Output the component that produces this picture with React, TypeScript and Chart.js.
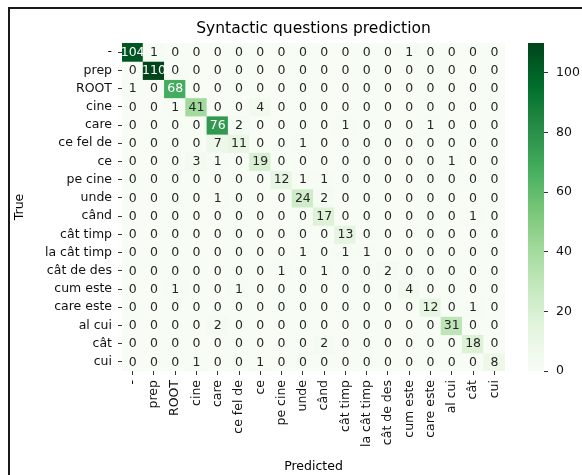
import React, { useEffect, useRef } from 'react';
import { Chart, registerables } from 'chart.js';

Chart.register(...registerables);

const categories = ['-', 'prep', 'ROOT', 'cine', 'care', 'ce fel de', 'ce', 'pe cine', 'unde', 'când', 'cât timp', 'la cât timp', 'cât de des', 'cum este', 'care este', 'al cui', 'cât', 'cui'];

const rowDash = [104, 1, 0, 0, 0, 0, 0, 0, 0, 0, 0, 0, 0, 1, 0, 0, 0, 0];
const rowPrep = [0, 110, 0, 0, 0, 0, 0, 0, 0, 0, 0, 0, 0, 0, 0, 0, 0, 0];
const rowRoot = [1, 0, 68, 0, 0, 0, 0, 0, 0, 0, 0, 0, 0, 0, 0, 0, 0, 0];
const rowCine = [0, 0, 1, 41, 0, 0, 4, 0, 0, 0, 0, 0, 0, 0, 0, 0, 0, 0];
const rowCare = [0, 0, 0, 0, 76, 2, 0, 0, 0, 0, 1, 0, 0, 0, 1, 0, 0, 0];
const rowCeFelDe = [0, 0, 0, 0, 7, 11, 0, 0, 1, 0, 0, 0, 0, 0, 0, 0, 0, 0];
const rowCe = [0, 0, 0, 3, 1, 0, 19, 0, 0, 0, 0, 0, 0, 0, 0, 1, 0, 0];
const rowPeCine = [0, 0, 0, 0, 0, 0, 0, 12, 1, 1, 0, 0, 0, 0, 0, 0, 0, 0];
const rowUnde = [0, 0, 0, 0, 1, 0, 0, 0, 24, 2, 0, 0, 0, 0, 0, 0, 0, 0];
const rowCand = [0, 0, 0, 0, 0, 0, 0, 0, 0, 17, 0, 0, 0, 0, 0, 0, 1, 0];
const rowCatTimp = [0, 0, 0, 0, 0, 0, 0, 0, 0, 0, 13, 0, 0, 0, 0, 0, 0, 0];
const rowLaCatTimp = [0, 0, 0, 0, 0, 0, 0, 0, 1, 0, 1, 1, 0, 0, 0, 0, 0, 0];
const rowCatDeDes = [0, 0, 0, 0, 0, 0, 0, 1, 0, 1, 0, 0, 2, 0, 0, 0, 0, 0];
const rowCumEste = [0, 0, 1, 0, 0, 1, 0, 0, 0, 0, 0, 0, 0, 4, 0, 0, 0, 0];
const rowCareEste = [0, 0, 0, 0, 0, 0, 0, 0, 0, 0, 0, 0, 0, 0, 12, 0, 1, 0];
const rowAlCui = [0, 0, 0, 0, 2, 0, 0, 0, 0, 0, 0, 0, 0, 0, 0, 31, 0, 0];
const rowCat = [0, 0, 0, 0, 0, 0, 0, 0, 0, 2, 0, 0, 0, 0, 0, 0, 18, 0];
const rowCui = [0, 0, 0, 1, 0, 0, 1, 0, 0, 0, 0, 0, 0, 0, 0, 0, 0, 8];

const matrix = [rowDash, rowPrep, rowRoot, rowCine, rowCare, rowCeFelDe, rowCe, rowPeCine, rowUnde, rowCand, rowCatTimp, rowLaCatTimp, rowCatDeDes, rowCumEste, rowCareEste, rowAlCui, rowCat, rowCui];

const colorbarTicks = [0, 20, 40, 60, 80, 100];
const vmax = 110;

const GREENS: [number, number, number][] = [
  [247, 252, 245], [229, 245, 224], [199, 233, 192], [161, 217, 155], [116, 196, 118],
  [65, 171, 93], [35, 139, 69], [0, 109, 44], [0, 68, 27],
];

function greens(t: number): string {
  const tt = Math.max(0, Math.min(1, t)) * (GREENS.length - 1);
  const i = Math.min(GREENS.length - 2, Math.floor(tt));
  const f = tt - i;
  const a = GREENS[i], b = GREENS[i + 1];
  const c = a.map((v, k) => Math.round(v + (b[k] - v) * f));
  return `rgb(${c[0]},${c[1]},${c[2]})`;
}

const FONT = 'DejaVu Sans';
const tickFont = { family: FONT, size: 12.5 };
const TEXT = '#111';
const TICKC = '#333';

const annotPlugin = {
  id: 'annot',
  afterDatasetsDraw(chart: any) {
    const { ctx } = chart;
    ctx.save();
    ctx.font = `12.5px "${FONT}"`;
    ctx.textAlign = 'center';
    ctx.textBaseline = 'middle';
    chart.data.datasets.forEach((_ds: any, r: number) => {
      const meta = chart.getDatasetMeta(r);
      meta.data.forEach((el: any, c: number) => {
        const v = matrix[r][c];
        const { x, y, base } = el.getProps(['x', 'y', 'base'], true);
        ctx.fillStyle = v > 55 ? '#ffffff' : '#262626';
        ctx.fillText(String(v), x, (y + base) / 2 + 0.5);
      });
    });
    ctx.restore();
  },
};

export default function App() {
  const mainRef = useRef<HTMLCanvasElement>(null);
  const cbRef = useRef<HTMLCanvasElement>(null);

  useEffect(() => {
    const main = new Chart(mainRef.current as HTMLCanvasElement, {
      type: 'bar',
      data: {
        labels: categories,
        datasets: matrix.map((row, r) => ({
          label: categories[r],
          data: row.map(() => 1),
          backgroundColor: row.map((v) => greens(v / vmax)),
          borderWidth: 0,
          inflateAmount: 0.5,
          barPercentage: 1,
          categoryPercentage: 1,
          stack: 'm',
        })),
      },
      options: {
        animation: false,
        responsive: false,
        maintainAspectRatio: false,
        devicePixelRatio: 1,
        events: [],
        layout: { padding: { top: 10, left: 8, right: 77, bottom: 0 } },
        plugins: {
          legend: { display: false },
          tooltip: { enabled: false },
          title: {
            display: true,
            text: 'Syntactic questions prediction',
            fullSize: false,
            font: { family: FONT, size: 15.5, weight: 'normal' },
            color: '#000',
            padding: { top: 10, bottom: 4.4 },
          },
        },
        scales: {
          x: {
            type: 'category',
            stacked: true,
            offset: true,
            grid: { display: true, drawOnChartArea: false, drawTicks: true, tickLength: 4, color: TICKC, offset: false },
            border: { display: false },
            ticks: { font: tickFont, color: TEXT, maxRotation: 90, minRotation: 90, autoSkip: false, padding: 5 },
            title: { display: true, text: 'Predicted', font: tickFont, color: '#000', padding: { top: 0, bottom: 1 } },
            afterFit: (s: any) => { s.height = 104; },
          },
          y: {
            type: 'linear',
            stacked: true,
            min: 0,
            max: 18,
            reverse: true,
            afterBuildTicks: (s: any) => { s.ticks = categories.map((_c, i) => ({ value: i + 0.5 })); },
            ticks: { font: tickFont, color: TEXT, autoSkip: false, padding: 6, callback: (_v: any, i: number) => categories[i] },
            grid: { display: true, drawOnChartArea: false, drawTicks: true, tickLength: 4, color: TICKC },
            border: { display: false },
            title: { display: true, text: 'True', font: tickFont, color: '#000', padding: { top: 4, bottom: 0 } },
            afterFit: (s: any) => { s.width = 114; },
          },
        },
      } as any,
      plugins: [annotPlugin],
    });

    const cb = new Chart(cbRef.current as HTMLCanvasElement, {
      type: 'bar',
      data: {
        labels: [''],
        datasets: [{
          data: [vmax],
          backgroundColor: (c: any) => {
            const { chartArea, ctx } = c.chart;
            if (!chartArea) return greens(0.5);
            const g = ctx.createLinearGradient(0, chartArea.bottom, 0, chartArea.top);
            GREENS.forEach((_s, i) => g.addColorStop(i / (GREENS.length - 1), greens(i / (GREENS.length - 1))));
            return g;
          },
          borderWidth: 0,
          barPercentage: 1,
          categoryPercentage: 1,
        }],
      },
      options: {
        animation: false,
        responsive: false,
        maintainAspectRatio: false,
        devicePixelRatio: 1,
        events: [],
        layout: { padding: { top: 43, left: 8, right: 0, bottom: 104 } },
        plugins: { legend: { display: false }, tooltip: { enabled: false }, title: { display: false } },
        scales: {
          x: { display: false },
          y: {
            position: 'right',
            min: 0,
            max: vmax,
            afterBuildTicks: (s: any) => { s.ticks = colorbarTicks.map((v) => ({ value: v })); },
            ticks: { font: tickFont, color: TEXT, padding: 8 },
            grid: { display: true, drawOnChartArea: false, drawTicks: true, tickLength: 4, color: TICKC },
            border: { display: false },
            afterFit: (s: any) => { s.width = 38; },
          },
        },
      } as any,
    });

    return () => { main.destroy(); cb.destroy(); };
  }, []);

  return (
    <div style={{ position: 'fixed', left: 0, top: 0, width: 582, height: 475, overflow: 'hidden', background: '#fff' }}>
      <div style={{ position: 'absolute', left: 8, top: 7, width: 600, height: 500, borderLeft: '2px solid #1a1a1a', borderTop: '2px solid #1a1a1a' }} />
      <canvas ref={mainRef} width={582} height={475} style={{ position: 'absolute', left: 0, top: 0, width: 582, height: 475 }} />
      <canvas ref={cbRef} width={62} height={475} style={{ position: 'absolute', left: 520, top: 0, width: 62, height: 475 }} />
    </div>
  );
}
